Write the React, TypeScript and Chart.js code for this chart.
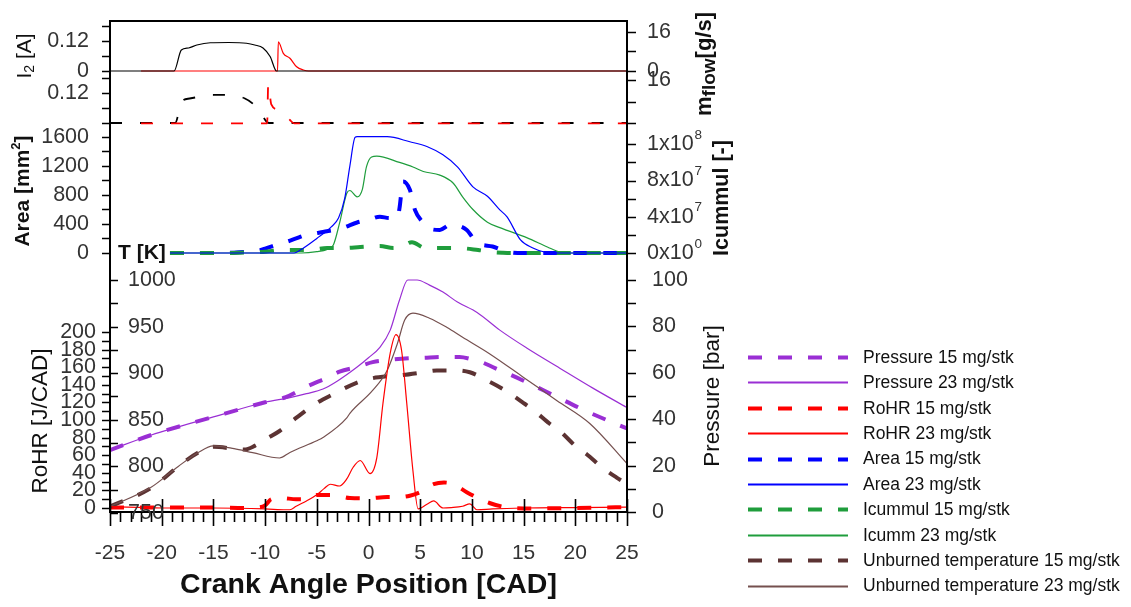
import React, { useEffect, useRef } from 'react';
import { Chart, registerables } from 'chart.js';

Chart.register(...registerables);

// ---------------- DATA ----------------
// Crank angle ticks
const xTickValues = [-25, -20, -15, -10, -5, 0, 5, 10, 15, 20, 25];

// Top panel: coil current I2 (23 mg/stk) and mass flow (23 mg/stk)
const i2SolidX = [-25, -18.8, -18.1, -17.4, -16.6, -15.3, -13.5, -11.8, -11, -10.2, -9.5, -8.9, 25];
const i2SolidY = [0, 0, 0.084, 0.092, 0.104, 0.113, 0.114, 0.111, 0.104, 0.092, 0.057, 0, 0];
const mflowSolidX = [-22, -8.8, -8.72, -8.24, -7.6, -6.95, -6.3, -5.8, 25];
const mflowSolidY = [0, 0, 11.9, 7.2, 5.2, 1.7, 0.4, 0, 0];

// Second panel: I2 and mass flow (15 mg/stk)
const i2DashX = [-25, -18.7, -18.07, -17.3, -16.3, -15, -13.5, -12, -11, -10.5, -9.85, -9.6, 25];
const i2DashY = [0, 0, 0.084, 0.097, 0.104, 0.111, 0.111, 0.098, 0.07, 0.045, 0.005, 0, 0];
const mflowDashX = [-22, -9.8, -9.7, -9.4, -8.7, -8.4, -7.9, -7.6, -7.2, 25];
const mflowDashY = [0, 0, 14.5, 7, 4.9, 3.6, 2.3, 1.2, 0, 0];

// Third panel: spray area [mm2] and Icummul [-]
const area15X = [-19.2, -15, -13, -12, -11, -10, -9, -8, -7, -6, -5, -4.4, -2.5, -1.1, 0.1, 1.1, 2, 2.8, 3.0, 3.35, 4.0, 4.5, 5.2, 6, 6.9, 7.9, 8.5, 9.5, 10.5, 12, 13, 14, 15, 25];
const area15Y = [0, 0, 5, 14, 20, 60, 110, 150, 200, 250, 275, 290, 345, 420, 460, 500, 480, 480, 620, 985, 870, 590, 430, 330, 317, 386, 380, 317, 140, 90, 40, 5, 0, 0];
const area23X = [-19.2, -7.2, -6.6, -5, -3.6, -2.9, -2.3, -1.8, -1.3, -1.1, 1.8, 4.0, 5.7, 7.2, 8.6, 10.1, 11.5, 12.7, 13.4, 14.7, 15.9, 17, 18, 25];
const area23Y = [0, 0, 40, 200, 360, 480, 750, 1200, 1590, 1600, 1600, 1530, 1462, 1351, 1186, 910, 780, 593, 497, 180, 70, 14, 0, 0];
const icum15X = [-19.2, -14, -12, -10, -8.5, -7, -5.7, -4, -2.3, -0.8, 1.1, 2.4, 3.2, 4.2, 5.5, 7.2, 8.6, 10.6, 12, 13, 14, 25];
const icum15Y = [0, 0, 0.5e6, 1.5e6, 3.3e6, 3.3e6, 3.3e6, 5.5e6, 5.5e6, 6.6e6, 7.7e6, 5.5e6, 7e6, 1.2e7, 5.5e6, 5.5e6, 5.5e6, 3.3e6, 1e6, 0.3e6, 0, 0];
const icum23X = [-19.2, -6.5, -5, -4, -3.4, -2.8, -2.1, -1.8, -1.1, -0.6, -0.2, 0.3, 0.8, 3.0, 4.3, 5.3, 6.9, 8.2, 9.1, 10.1, 11.5, 12.7, 13.4, 15.3, 17.3, 18.5, 19.5, 25];
const icum23Y = [0, 0, 1.5e6, 4e6, 8.8e6, 3.3e7, 6.6e7, 6.9e7, 6.2e7, 7e7, 9.5e7, 1.06e8, 1.07e8, 1.0e8, 9.5e7, 9e7, 8.6e7, 7.7e7, 6.2e7, 4.8e7, 3.4e7, 2.8e7, 2.5e7, 1.7e7, 6.6e6, 1e6, 0, 0];

// Bottom panel: pressure [bar], RoHR [J/CAD], unburned temperature [K]
const p15X = [-25, -21, -15, -10, -8, -6, -5, -4, -2.8, -1.1, 0.4, 1.8, 4, 5.3, 7.2, 8.8, 10, 11, 12, 14.3, 17.5, 20.8, 23.7, 25];
const p15Y = [26.7, 33.2, 41, 47.3, 49.5, 54, 56, 57.8, 60.5, 62.5, 64.6, 65.5, 66.3, 66.5, 66.8, 66.8, 65.8, 64.5, 62.5, 58, 51.2, 44, 38.4, 36];
const p23X = [-25, -21, -15, -10, -7.6, -6, -4.4, -3, -1.1, 0, 1.1, 2.1, 3, 3.8, 4.7, 5.9, 7.2, 8.6, 10.5, 12.7, 15.3, 18.5, 21.7, 25];
const p23Y = [26.7, 33.2, 41, 47.3, 49.3, 51, 53, 56.5, 62.5, 66.5, 71, 78.4, 91.4, 100, 100, 97.8, 94.8, 90.5, 86, 78.4, 70.7, 62, 53.4, 45];
const rohr15X = [-25, -15, -12, -10.8, -10, -9.4, -8.4, -7, -6, -5, -3.4, -1.8, -0.1, 1.8, 3, 4, 5, 6.3, 7.3, 8.2, 9.5, 11, 11.7, 13, 14, 16, 20, 25];
const rohr15Y = [0.5, 0.5, 0, 0.5, 3, 10, 11.3, 10, 10, 14.7, 14.7, 11.3, 11, 12.5, 12.5, 14, 18, 27, 29, 27, 18, 9, 5.7, 1.5, 0, -0.5, 0, 1];
const rohr23X = [-25, -20, -15, -10, -8, -7.6, -7, -6, -5, -4.3, -3.7, -2.8, -2.1, -1.5, -0.8, 0.15, 0.8, 1.4, 2.1, 2.66, 3.2, 3.7, 4.3, 4.8, 5.7, 6.3, 7.2, 8, 9.1, 9.8, 10.5, 12, 15, 20, 25];
const rohr23Y = [1.5, 0, 0, -1, -2, -2, 2, 8, 15, 22, 27, 25, 33, 46, 54, 39, 57, 119, 176, 197, 179, 119, 42, -1, 4.6, 8, 0, 0.5, 2, 4.6, -2, -1, 0, 0.5, 1];
const t15X = [-25, -21, -18.4, -16.5, -15, -13, -12, -11, -9.8, -8.6, -7, -5, -3.5, -1.1, 0.1, 2.1, 3.3, 5.3, 6.6, 8.6, 9.8, 11.5, 13, 15, 16, 17.5, 18.5, 20.2, 21.1, 22.7, 24, 25];
const t15Y = [757, 777, 800, 814.7, 821, 819, 818, 822, 830, 838, 852, 868, 877, 890, 894, 897, 898, 901, 903, 903, 901, 892, 883, 868, 860, 846, 838, 820, 813, 798, 788, 781];
const t23X = [-25, -21.1, -18.4, -16.5, -15, -13, -11.2, -8.6, -7.6, -5, -4.4, -2.1, -1.8, 0.4, 1.8, 2.8, 3.5, 4.3, 5.9, 7.6, 9.1, 11.7, 15, 18.2, 21.4, 25];
const t23Y = [757, 777, 800, 814.7, 822, 819, 814.7, 809, 815, 827.6, 831, 852, 857, 881.5, 903, 932, 957, 964.4, 959, 949, 938.6, 921, 895.5, 870.7, 846, 803];

// Tick values / labels
const i2Ticks = [0, 0.06, 0.12, 0.18];
const i2TopLabels = [0, 0.12];
const i2BottomLabels = [0.12];
const mfTicks = [0, 8, 16];
const mfTopLabels = [0, 16];
const mfBottomLabels = [16];
const areaTicks = [0, 200, 400, 600, 800, 1000, 1200, 1400, 1600];
const areaLabels = [0, 400, 800, 1200, 1600];
const icTicks = [0, 2e7, 4e7, 6e7, 8e7, 1e8, 1.2e8];
const icLabels = [0, 4e7, 8e7, 1.2e8];
const icLabelMantissa = ['0x10', '4x10', '8x10', '1x10'];
const icLabelExponent = ['0', '7', '7', '8'];
const rohrTicks = [0, 10, 20, 30, 40, 50, 60, 70, 80, 90, 100, 110, 120, 130, 140, 150, 160, 170, 180, 190, 200];
const rohrLabels = [0, 20, 40, 60, 80, 100, 120, 140, 160, 180, 200];
const tTicks = [750, 775, 800, 825, 850, 875, 900, 925, 950, 975, 1000];
const tLabels = [750, 800, 850, 900, 950, 1000];
const pTicks = [0, 10, 20, 30, 40, 50, 60, 70, 80, 90, 100];
const pLabels = [0, 20, 40, 60, 80, 100];

const legendLabels = [
  'Pressure 15 mg/stk',
  'Pressure 23 mg/stk',
  'RoHR 15 mg/stk',
  'RoHR 23 mg/stk',
  'Area 15 mg/stk',
  'Area 23 mg/stk',
  'Icummul 15 mg/stk',
  'Icumm 23 mg/stk',
  'Unburned temperature 15 mg/stk',
  'Unburned temperature 23 mg/stk',
];

// ---------------- LAYOUT / STYLE ----------------
const W = 1131;
const H = 607;
const FRAME = { left: 110, right: 627, top: 20, bottom: 512 };
const FONT = '"Liberation Sans", Arial, Helvetica, sans-serif';
const font = (size: number, bold = false) => `${bold ? 'bold ' : ''}${size}px ${FONT}`;
const Y_TICK_SIZE = 21.5;
const X_TICK_SIZE = 21;

// value/pixel anchor pairs that place each sub-panel inside the common plot frame
const anchors: Record<string, [number, number, number, number]> = {
  yI2: [0, 71, 0.12, 41],
  yMf: [0, 71, 16, 31.7],
  yI2b: [0, 123, 0.12, 92.7],
  yMfb: [0, 123.3, 16, 80],
  yArea: [0, 253, 1600, 136.7],
  yIc: [0, 253, 1.2e8, 144.3],
  yRoHR: [0, 508, 200, 332],
  yT: [750, 513, 1000, 280],
  yP: [0, 512, 100, 280],
};

function spanFor(id: string) {
  const [v1, p1, v2, p2] = anchors[id];
  const k = (v2 - v1) / (p1 - p2);
  return { min: v1 - (FRAME.bottom - p1) * k, max: v1 + (p1 - FRAME.top) * k };
}

const COLORS = {
  purple: '#9a2fd4',
  red: '#ff0000',
  blue: '#0000ff',
  green: '#1f9d3c',
  brownDash: '#5c3333',
  brownSolid: '#75504f',
  black: '#000000',
};

const pts = (xs: number[], ys: number[]) => xs.map((x, i) => ({ x, y: ys[i] }));

function series(label: string, xs: number[], ys: number[], yAxisID: string, color: string, kind: 'solid' | 'dash' | 'thinDash', legendRank = -1) {
  const base: any = {
    label,
    data: pts(xs, ys),
    yAxisID,
    borderColor: color,
    backgroundColor: color,
    pointRadius: 0,
    pointHoverRadius: 0,
    fill: false,
    cubicInterpolationMode: 'monotone',
    legendRank,
  };
  if (kind === 'solid') {
    base.borderWidth = 1.2;
    base.borderDash = [];
  } else if (kind === 'dash') {
    base.borderWidth = 4;
    base.borderDash = [14, 16];
  } else {
    base.borderWidth = 1.8;
    base.borderDash = [12, 18];
  }
  return base;
}

// ---------------- PLUGINS ----------------
type Part = { t: string; size: number; bold?: boolean; dy?: number };

function drawRich(ctx: CanvasRenderingContext2D, parts: Part[], x: number, y: number, rotate: boolean, align: 'center' | 'left', color: string) {
  ctx.save();
  let total = 0;
  const widths = parts.map((p) => {
    ctx.font = font(p.size, p.bold);
    const w = ctx.measureText(p.t).width;
    total += w;
    return w;
  });
  ctx.translate(x, y);
  if (rotate) ctx.rotate(-Math.PI / 2);
  let cx = align === 'center' ? -total / 2 : 0;
  ctx.textBaseline = 'middle';
  ctx.textAlign = 'left';
  ctx.fillStyle = color;
  parts.forEach((p, i) => {
    ctx.font = font(p.size, p.bold);
    ctx.fillText(p.t, cx, p.dy || 0);
    cx += widths[i];
  });
  ctx.restore();
}

const TICK_COLOR = '#333333';

const framePlugin = {
  id: 'panelFrame',
  afterDraw(chart: any) {
    const ctx: CanvasRenderingContext2D = chart.ctx;
    const { left, right, top, bottom } = chart.chartArea;
    const sx = chart.scales.x;
    ctx.save();
    ctx.strokeStyle = '#000';
    ctx.lineCap = 'butt';

    // frame lines
    ctx.lineWidth = 2;
    ctx.beginPath();
    ctx.moveTo(left - 1, top + 1);
    ctx.lineTo(right + 1, top + 1);
    ctx.moveTo(left, top);
    ctx.lineTo(left, bottom + 1);
    ctx.moveTo(right, top);
    ctx.lineTo(right, bottom + 1);
    ctx.moveTo(left - 1, bottom);
    ctx.lineTo(right + 1, bottom);
    ctx.stroke();

    // x ticks
    ctx.lineWidth = 1.6;
    ctx.beginPath();
    for (let v = -25; v <= 25; v += 1) {
      const px = Math.round(sx.getPixelForValue(v)) + 0.5;
      const major = v % 5 === 0;
      ctx.moveTo(px, major ? bottom - 13 : bottom);
      ctx.lineTo(px, major ? bottom + 14 : bottom + 10);
    }
    ctx.stroke();
    ctx.fillStyle = TICK_COLOR;
    ctx.font = font(X_TICK_SIZE);
    ctx.textAlign = 'center';
    ctx.textBaseline = 'middle';
    xTickValues.forEach((v) => ctx.fillText(String(v), sx.getPixelForValue(v), bottom + 41));

    // y axes
    const leftAxes = [
      { id: 'yI2', ticks: i2Ticks, labels: i2TopLabels, labelX: 89 },
      { id: 'yI2b', ticks: i2Ticks, labels: i2BottomLabels, labelX: 89 },
      { id: 'yArea', ticks: areaTicks, labels: areaLabels, labelX: 89 },
      { id: 'yRoHR', ticks: rohrTicks, labels: rohrLabels, labelX: 96 },
    ];
    const rightAxes = [
      { id: 'yMf', ticks: mfTicks, labels: mfTopLabels, labelX: 647 },
      { id: 'yMfb', ticks: mfTicks, labels: mfBottomLabels, labelX: 647 },
      { id: 'yP', ticks: pTicks, labels: pLabels, labelX: 652 },
    ];
    ctx.lineWidth = 1.6;
    ctx.beginPath();
    leftAxes.forEach((a) => a.ticks.forEach((v) => {
      const py = Math.round(chart.scales[a.id].getPixelForValue(v)) + 0.5;
      ctx.moveTo(left, py);
      ctx.lineTo(left - 8, py);
    }));
    [...rightAxes, { id: 'yIc', ticks: icTicks }].forEach((a: any) => a.ticks.forEach((v: number) => {
      const py = Math.round(chart.scales[a.id].getPixelForValue(v)) + 0.5;
      ctx.moveTo(right, py);
      ctx.lineTo(right + 9, py);
    }));
    tTicks.forEach((v) => {
      const py = Math.round(chart.scales.yT.getPixelForValue(v)) + 0.5;
      ctx.moveTo(left, py);
      ctx.lineTo(left + 8, py);
    });
    ctx.stroke();

    ctx.font = font(Y_TICK_SIZE);
    ctx.fillStyle = TICK_COLOR;
    ctx.textBaseline = 'middle';
    ctx.textAlign = 'right';
    leftAxes.forEach((a) => a.labels.forEach((v) => {
      ctx.fillText(String(v), a.labelX, chart.scales[a.id].getPixelForValue(v));
    }));
    ctx.textAlign = 'left';
    rightAxes.forEach((a) => a.labels.forEach((v) => {
      ctx.fillText(String(v), a.labelX, chart.scales[a.id].getPixelForValue(v));
    }));
    tLabels.forEach((v) => ctx.fillText(String(v), 128, chart.scales.yT.getPixelForValue(v)));
    icLabels.forEach((v, i) => {
      const py = chart.scales.yIc.getPixelForValue(v);
      ctx.font = font(Y_TICK_SIZE);
      ctx.fillText(icLabelMantissa[i], 647, py);
      const w = ctx.measureText(icLabelMantissa[i]).width;
      ctx.font = font(13.5);
      ctx.fillText(icLabelExponent[i], 647 + w + 1, py - 9);
    });
    ctx.restore();

    // axis titles
    drawRich(ctx, [{ t: 'I', size: 21 }, { t: '2', size: 14, dy: 5 }, { t: ' [A]', size: 21 }], 25, 56, true, 'center', '#111');
    drawRich(ctx, [{ t: 'Area [mm', size: 21, bold: true }, { t: '2', size: 13, bold: true, dy: -7 }, { t: ']', size: 21, bold: true }], 23, 191, true, 'center', '#111');
    drawRich(ctx, [{ t: 'RoHR [J/CAD]', size: 22.5 }], 41, 421, true, 'center', '#111');
    drawRich(ctx, [{ t: 'T [K]', size: 21, bold: true }], 118, 253, false, 'left', '#111');
    drawRich(ctx, [{ t: 'm', size: 22, bold: true }, { t: 'flow', size: 19, bold: true, dy: 5 }, { t: '[g/s]', size: 22, bold: true }], 705, 64, true, 'center', '#111');
    drawRich(ctx, [{ t: 'Icummul [-]', size: 21.5, bold: true }], 722, 198, true, 'center', '#111');
    drawRich(ctx, [{ t: 'Pressure [bar]', size: 22.5 }], 713, 396, true, 'center', '#111');
    drawRich(ctx, [{ t: 'Crank Angle Position [CAD]', size: 28.5, bold: true }], (left + right) / 2, 585, false, 'center', '#111');
  },
};

const LEGEND = { x0: 748, x1: 848, textX: 863, y0: 357, step: 25.4 };

const legendPlugin = {
  id: 'sideLegend',
  afterDraw(chart: any) {
    const ctx: CanvasRenderingContext2D = chart.ctx;
    const items = chart.data.datasets
      .filter((d: any) => d.legendRank >= 0)
      .sort((a: any, b: any) => a.legendRank - b.legendRank);
    ctx.save();
    items.forEach((d: any, i: number) => {
      const y = LEGEND.y0 + i * LEGEND.step;
      ctx.strokeStyle = d.borderColor;
      ctx.lineWidth = Math.max(d.borderWidth, 1.8);
      ctx.setLineDash(d.borderDash || []);
      ctx.beginPath();
      ctx.moveTo(LEGEND.x0, Math.round(y) + 0.5);
      ctx.lineTo(LEGEND.x1, Math.round(y) + 0.5);
      ctx.stroke();
      ctx.setLineDash([]);
      ctx.fillStyle = '#111';
      ctx.font = font(17.5);
      ctx.textAlign = 'left';
      ctx.textBaseline = 'middle';
      ctx.fillText(d.label, LEGEND.textX, y + 1);
    });
    ctx.restore();
  },
};

// ---------------- COMPONENT ----------------
export default function App() {
  const ref = useRef<HTMLCanvasElement>(null);

  useEffect(() => {
    const canvas = ref.current;
    if (!canvas) return;

    const datasets = [
      series('I2 23 mg/stk', i2SolidX, i2SolidY, 'yI2', COLORS.black, 'solid'),
      series('mflow 23 mg/stk', mflowSolidX, mflowSolidY, 'yMf', COLORS.red, 'solid'),
      series('mflow 15 mg/stk', mflowDashX, mflowDashY, 'yMfb', COLORS.red, 'thinDash'),
      series('I2 15 mg/stk', i2DashX, i2DashY, 'yI2b', COLORS.black, 'thinDash'),
      series(legendLabels[3], rohr23X, rohr23Y, 'yRoHR', COLORS.red, 'solid', 3),
      series(legendLabels[1], p23X, p23Y, 'yP', COLORS.purple, 'solid', 1),
      series(legendLabels[9], t23X, t23Y, 'yT', COLORS.brownSolid, 'solid', 9),
      series(legendLabels[5], area23X, area23Y, 'yArea', COLORS.blue, 'solid', 5),
      series(legendLabels[7], icum23X, icum23Y, 'yIc', COLORS.green, 'solid', 7),
      series(legendLabels[6], icum15X, icum15Y, 'yIc', COLORS.green, 'dash', 6),
      series(legendLabels[4], area15X, area15Y, 'yArea', COLORS.blue, 'dash', 4),
      series(legendLabels[0], p15X, p15Y, 'yP', COLORS.purple, 'dash', 0),
      series(legendLabels[8], t15X, t15Y, 'yT', COLORS.brownDash, 'dash', 8),
      series(legendLabels[2], rohr15X, rohr15Y, 'yRoHR', COLORS.red, 'dash', 2),
    ];

    const yScale = (id: string, position: string) => {
      const s = spanFor(id);
      return { type: 'linear', display: false, position, min: s.min, max: s.max };
    };

    const chart = new Chart(canvas, {
      type: 'line',
      data: { datasets } as any,
      options: {
        responsive: false,
        animation: false,
        devicePixelRatio: 1,
        events: [],
        layout: {
          padding: { left: FRAME.left, right: W - FRAME.right, top: FRAME.top, bottom: H - FRAME.bottom },
        },
        plugins: {
          legend: { display: false },
          tooltip: { enabled: false },
        },
        scales: {
          x: { type: 'linear', display: false, min: -25, max: 25 },
          yI2: yScale('yI2', 'left'),
          yI2b: yScale('yI2b', 'left'),
          yArea: yScale('yArea', 'left'),
          yRoHR: yScale('yRoHR', 'left'),
          yT: yScale('yT', 'left'),
          yMf: yScale('yMf', 'right'),
          yMfb: yScale('yMfb', 'right'),
          yIc: yScale('yIc', 'right'),
          yP: yScale('yP', 'right'),
        } as any,
      },
      plugins: [framePlugin, legendPlugin],
    });

    return () => chart.destroy();
  }, []);

  return (
    <div style={{ position: 'fixed', left: 0, top: 0, width: W, height: H, background: '#ffffff' }}>
      <canvas ref={ref} width={W} height={H} style={{ width: W, height: H, display: 'block' }} />
    </div>
  );
}
